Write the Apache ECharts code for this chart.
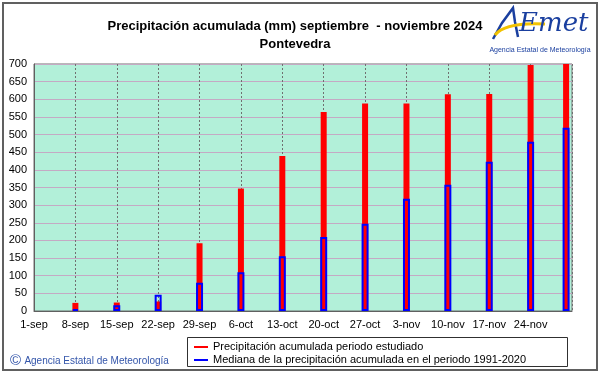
<!DOCTYPE html>
<html><head><meta charset="utf-8">
<script src="https://cdn.jsdelivr.net/npm/echarts@6/dist/echarts.min.js"></script>
<style>html,body{margin:0;padding:0;background:#fff}#c{width:601px;height:374px}</style>
</head><body><div id="c"></div>
<script>
// ---- data ----
const startDate = '2024-09-01';
const endDate = '2024-12-01';
const dates = ['2024-09-08','2024-09-15','2024-09-22','2024-09-29','2024-10-06','2024-10-13','2024-10-20','2024-10-27','2024-11-03','2024-11-10','2024-11-17','2024-11-24','2024-11-30'];
const accumulated = [23, 24, 27, 192, 347, 439, 564, 588, 588, 614, 615, 697, 700];
const median = [5, 16, 46, 80, 110, 155, 210, 247, 318, 358, 423, 480, 519];
const tickLabels = ['1-sep','8-sep','15-sep','22-sep','29-sep','6-oct','13-oct','20-oct','27-oct','3-nov','10-nov','17-nov','24-nov'];
const seriesNames = ['Precipitación acumulada periodo estudiado', 'Mediana de la precipitación acumulada en el periodo 1991-2020'];
const titleLines = ['Precipitación acumulada (mm) septiembre  - noviembre 2024', 'Pontevedra'];

const FONT = '"Liberation Sans", Arial, sans-serif';
const dayOf = d => (Date.parse(d) - Date.parse(startDate)) / 86400000;
const totalDays = dayOf(endDate);

const xAxisBase = {
  type: 'value', min: 0, max: totalDays, interval: 7
};

const chart = echarts.init(document.getElementById('c'), null, {renderer: 'canvas'});
chart.setOption({
  animation: false,
  backgroundColor: '#ffffff',
  grid: {
    left: 34, right: 29, top: 64, bottom: 63,
    show: true, backgroundColor: '#b2f0d9', borderColor: '#707070', borderWidth: 1
  },
  xAxis: [
    Object.assign({}, xAxisBase, {
      axisLine: {show: true, lineStyle: {color: '#606060', width: 1}},
      axisTick: {show: false},
      axisLabel: {
        color: '#000', fontSize: 11, fontFamily: FONT, margin: 8,
        formatter: v => tickLabels[Math.round(v / 7)] || ''
      },
      splitLine: {show: true, lineStyle: {color: '#707070', width: 1, type: [2, 2]}}
    }),
    Object.assign({}, xAxisBase, {show: false, splitLine: {show: false}})
  ],
  yAxis: {
    type: 'value', min: 0, max: 700, interval: 50,
    axisLine: {show: true, lineStyle: {color: '#606060', width: 1}},
    axisTick: {show: false},
    axisLabel: {color: '#000', fontSize: 11, fontFamily: FONT, margin: 7},
    splitLine: {show: true, lineStyle: {color: '#c4aac4', width: 1}}
  },
  legend: {
    orient: 'vertical', left: 194, top: 341, padding: 0,
    itemWidth: 14, itemHeight: 2, itemGap: 1, icon: 'rect',
    textStyle: {fontSize: 11, lineHeight: 12, color: '#000', fontFamily: FONT},
    data: [
      {name: seriesNames[0], itemStyle: {color: '#ff0000'}},
      {name: seriesNames[1], itemStyle: {color: '#0000ff', borderWidth: 0}}
    ]
  },
  series: [
    {
      name: seriesNames[0], type: 'bar', xAxisIndex: 0, barWidth: 6,
      itemStyle: {color: '#ff0000'},
      data: dates.map((d, i) => [dayOf(d), accumulated[i]])
    },
    {
      name: seriesNames[1], type: 'bar', xAxisIndex: 1, barWidth: 7,
      itemStyle: {color: 'rgba(0,0,0,0)', borderColor: '#0000ff', borderWidth: 2},
      data: dates.map((d, i) => [dayOf(d), median[i]])
    }
  ],
  graphic: [
    {type: 'rect', z: -10, silent: true, shape: {x: 3, y: 3, width: 594, height: 367},
     style: {fill: 'none', stroke: '#606060', lineWidth: 2}},
    {type: 'rect', z: -5, silent: true, shape: {x: 187.5, y: 337.5, width: 380, height: 29},
     style: {fill: '#ffffff', stroke: '#303030', lineWidth: 1}},
    {type: 'text', silent: true, x: 295, y: 17,
     style: {text: titleLines.join('\n'), textAlign: 'center', textVerticalAlign: 'top',
       font: 'bold 13px ' + FONT, lineHeight: 18, fill: '#000'}},
    {type: 'text', silent: true, x: 10, y: 361,
     style: {text: '{c|©} {t|Agencia Estatal de Meteorología}', textVerticalAlign: 'middle',
       rich: {c: {fontSize: 15, fontFamily: FONT, fill: '#3355aa'}, t: {fontSize: 10, fontFamily: FONT, fill: '#3355aa'}}}},
    // logo
    {type: 'polyline', silent: true, shape: {points: [[493, 39], [502, 23], [513, 8], [515, 22], [518, 37]]},
     style: {stroke: '#1a3f9f', lineWidth: 2.5, fill: 'none'}},
    {type: 'bezierCurve', silent: true, shape: {x1: 495, y1: 35, cpx1: 505, cpy1: 22, x2: 545, y2: 24},
     style: {stroke: '#f2c200', lineWidth: 3, fill: 'none'}},
    {type: 'text', silent: true, x: 519, y: 11,
     style: {text: 'Emet', font: 'italic 26px "DejaVu Serif", serif', fill: '#1a3f9f', textVerticalAlign: 'top'}},
    {type: 'text', silent: true, x: 540, y: 50,
     style: {text: 'Agencia Estatal de Meteorología', font: '7px ' + FONT, fill: '#1a3f9f', textAlign: 'center', textVerticalAlign: 'middle'}}
  ]
});
</script></body></html>
